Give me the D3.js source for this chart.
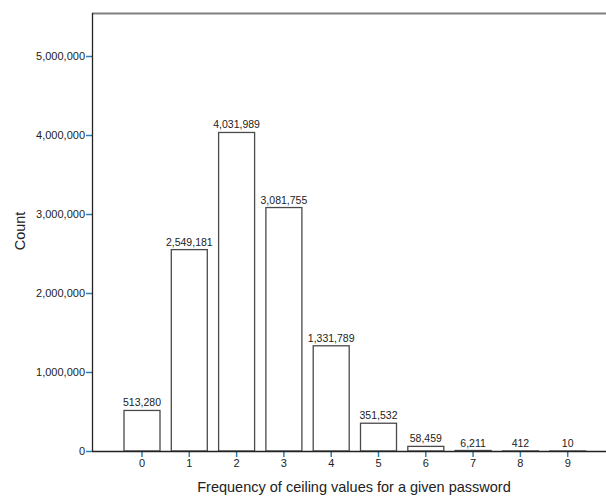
<!DOCTYPE html>
<html>
<head>
<meta charset="utf-8">
<script src="https://cdn.jsdelivr.net/npm/d3@7"></script>
<style>
  html, body { margin: 0; padding: 0; background: #fff; }
  svg { display: block; font-family: "Liberation Sans", Arial, sans-serif; }
</style>
</head>
<body>
<svg id="chart" width="606" height="497"></svg>
<script>
// Counts of passwords by ceiling-value frequency
const categories = ["0", "1", "2", "3", "4", "5", "6", "7", "8", "9"];
const counts = [513280, 2549181, 4031989, 3081755, 1331789, 351532, 58459, 6211, 412, 10];
const yTicks = [0, 1000000, 2000000, 3000000, 4000000, 5000000];

const svg = d3.select("#chart");
const plot = { left: 92, right: 606, top: 13, bottom: 451 };

const x = d3.scaleBand()
  .domain(categories)
  .range([118.35, 591.35])
  .paddingInner(0.239)
  .paddingOuter(0.1195);

const y = d3.scaleLinear()
  .domain([0, 5000000])
  .range([plot.bottom, plot.bottom - 395]);

const fmt = d3.format(",");
const tickBlue = "#2f7fb5";

// frame: grey top border
svg.append("line")
  .attr("x1", plot.left).attr("x2", plot.right)
  .attr("y1", plot.top + 0.5).attr("y2", plot.top + 0.5)
  .attr("stroke", "#808080").attr("stroke-width", 2);

// bars
svg.append("g").selectAll("rect")
  .data(counts)
  .join("rect")
  .attr("x", (d, i) => x(categories[i]))
  .attr("y", d => y(d))
  .attr("width", x.bandwidth())
  .attr("height", d => y(0) - y(d))
  .attr("fill", "#fff")
  .attr("stroke", "#4a4a4a")
  .attr("stroke-width", 1.3);

// value labels above bars
svg.append("g").selectAll("text")
  .data(counts)
  .join("text")
  .attr("x", (d, i) => x(categories[i]) + x.bandwidth() / 2)
  .attr("y", d => y(d) - 4)
  .attr("text-anchor", "middle")
  .attr("font-size", 10.5)
  .attr("fill", "#222")
  .text(d => fmt(d));

// y axis
const yAxis = svg.append("g")
  .attr("transform", `translate(${plot.left},0)`)
  .call(d3.axisLeft(y).tickValues(yTicks).tickFormat(fmt).tickSize(6).tickSizeOuter(0));
yAxis.select(".domain").remove();
yAxis.selectAll(".tick line").attr("stroke", tickBlue).attr("stroke-width", 1.5);
yAxis.selectAll(".tick text").attr("font-size", 11).attr("fill", "#222").attr("x", -7)
  .attr("font-family", "Liberation Sans, Arial, sans-serif");
svg.append("line")
  .attr("x1", plot.left + 0.5).attr("x2", plot.left + 0.5)
  .attr("y1", plot.top).attr("y2", plot.bottom)
  .attr("stroke", "#222").attr("stroke-width", 1.3);

// x axis
const xAxis = svg.append("g")
  .attr("transform", `translate(0,${plot.bottom})`)
  .call(d3.axisBottom(x).tickSize(6).tickSizeOuter(0));
xAxis.select(".domain").remove();
xAxis.selectAll(".tick line").attr("stroke", tickBlue).attr("stroke-width", 1.5);
xAxis.selectAll(".tick text").attr("font-size", 11).attr("fill", "#222").attr("y", 8)
  .attr("font-family", "Liberation Sans, Arial, sans-serif");
svg.append("line")
  .attr("x1", plot.left).attr("x2", plot.right)
  .attr("y1", plot.bottom + 0.5).attr("y2", plot.bottom + 0.5)
  .attr("stroke", "#222").attr("stroke-width", 1.3);

// axis titles
svg.append("text")
  .attr("x", 354).attr("y", 492)
  .attr("text-anchor", "middle")
  .attr("font-size", 14.5)
  .attr("fill", "#222")
  .text("Frequency of ceiling values for a given password");

svg.append("text")
  .attr("transform", "translate(25,231) rotate(-90)")
  .attr("text-anchor", "middle")
  .attr("font-size", 14.5)
  .attr("fill", "#222")
  .text("Count");
</script>
</body>
</html>
